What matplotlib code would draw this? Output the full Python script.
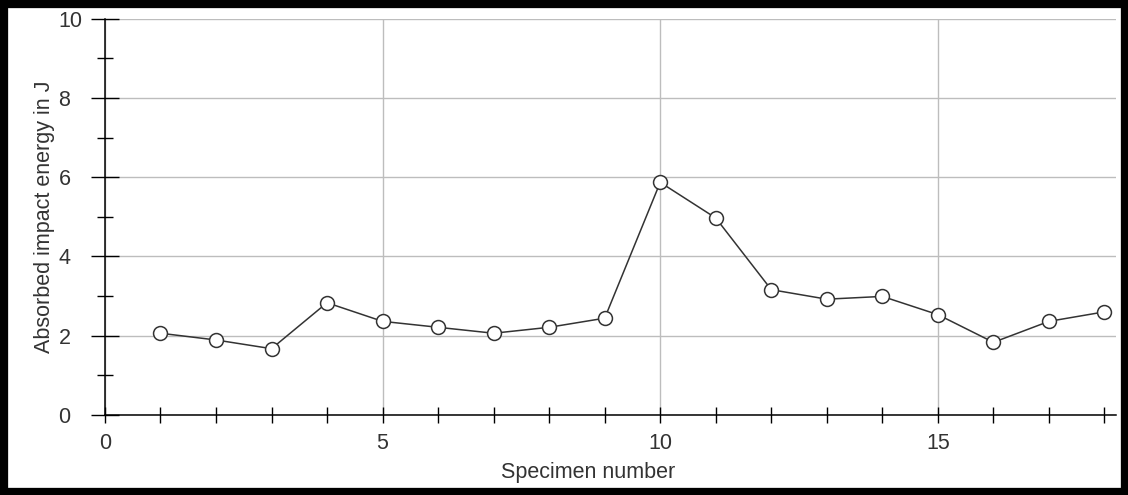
import matplotlib
matplotlib.use('Agg')
import matplotlib.pyplot as plt
from matplotlib.ticker import MultipleLocator
from matplotlib.patches import Rectangle

# specimen numbers and measured impact energy (J)
specimen = list(range(1, 19))
energy = [2.06, 1.89, 1.67, 2.83, 2.36, 2.21, 2.06, 2.21, 2.44,
          5.87, 4.97, 3.16, 2.92, 2.99, 2.53, 1.83, 2.36, 2.60]

plt.rcParams['font.family'] = ['Liberation Sans', 'DejaVu Sans']

fig = plt.figure(figsize=(11.28, 4.95), dpi=100)
ax = fig.add_axes([0.093, 0.162, 0.896, 0.8])

ax.plot(specimen, energy, color='#333333', lw=1.1, marker='o', ms=10,
        mfc='white', mec='#333333', mew=1.1, zorder=3)

ax.set_xlim(0, 18.2)
ax.set_ylim(0, 10)

ax.xaxis.set_major_locator(MultipleLocator(5))
ax.xaxis.set_minor_locator(MultipleLocator(1))
ax.yaxis.set_major_locator(MultipleLocator(2))
ax.yaxis.set_minor_locator(MultipleLocator(1))

ax.grid(True, which='major', color='#bdbdbd', lw=1.0)
ax.set_axisbelow(True)

ax.tick_params(axis='x', which='both', direction='inout', length=12, width=1,
               labelsize=15.5, pad=7, labelcolor='#333333')
ax.tick_params(axis='y', which='major', direction='inout', length=20, width=1,
               labelsize=15.5, pad=23.5, labelcolor='#333333')
ax.tick_params(axis='y', which='minor', direction='inout', length=12, width=1)
# y tick labels are left aligned in the original
for lbl in ax.get_yticklabels():
    lbl.set_horizontalalignment('left')

for s in ['top', 'right']:
    ax.spines[s].set_visible(False)
for s in ['left', 'bottom']:
    ax.spines[s].set_color('black')
    ax.spines[s].set_linewidth(1.1)

ax.set_xlabel('Specimen number', fontsize=15.5, color='#333333')
ax.xaxis.set_label_coords(0.478, -0.118)
ax.set_ylabel('Absorbed impact energy in J', fontsize=15.5, color='#333333')
ax.yaxis.set_label_coords(-0.049, 0.5)

# thick black frame around the whole picture
fig.patches.append(Rectangle((0, 0), 1, 1, transform=fig.transFigure,
                             fill=False, ec='black', lw=11))

fig.savefig('out.png', dpi=100)
